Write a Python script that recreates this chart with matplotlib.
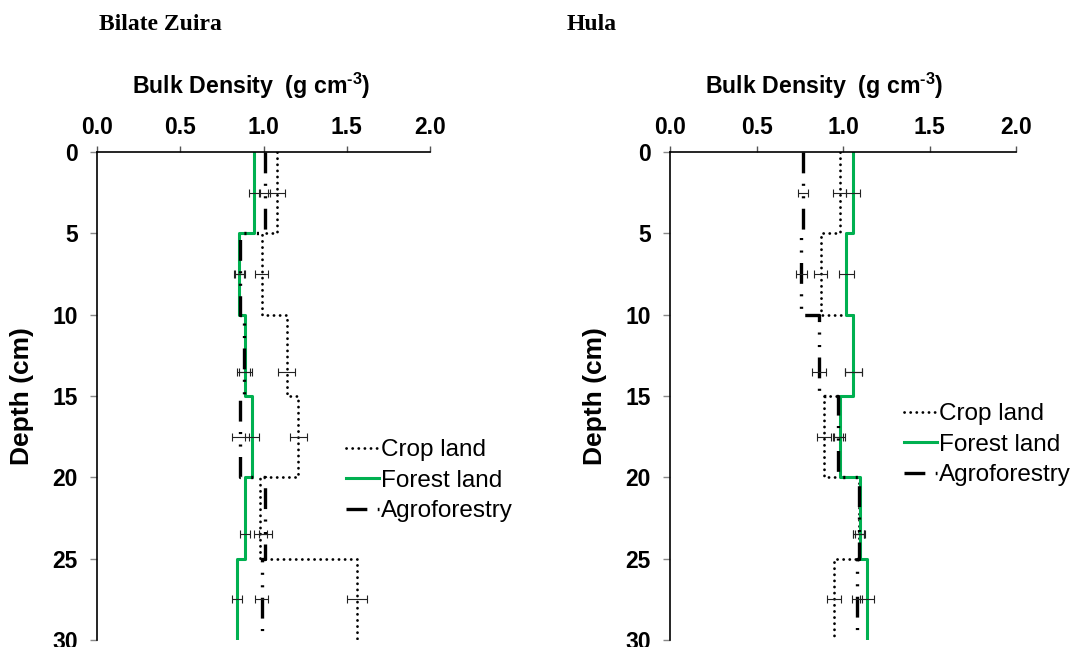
import numpy as np
import matplotlib
matplotlib.use("Agg")
import matplotlib.pyplot as plt

plt.rcParams['font.family'] = ['Liberation Sans', 'DejaVu Sans']
plt.rcParams['lines.scale_dashes'] = False
plt.rcParams['mathtext.fontset'] = 'custom'
plt.rcParams['mathtext.rm'] = 'Liberation Sans:bold'
plt.rcParams['mathtext.bf'] = 'Liberation Sans:bold'

# depth layers (cm) and points where error bars were drawn
depth_edges = [0, 5, 10, 15, 20, 25, 30]
err_depths = [2.5, 7.5, 13.5, 17.5, 23.5, 27.5]

# Bilate Zuira
bz_crop = [1.08, 0.99, 1.14, 1.21, 0.98, 1.56]
bz_forest = [0.94, 0.85, 0.89, 0.93, 0.89, 0.84]
bz_agro = [1.01, 0.86, 0.88, 0.86, 1.01, 0.99]
bz_crop_err = [0.05, 0.04, 0.05, 0.05, 0.04, 0.06]
bz_forest_err = [0.03, 0.03, 0.04, 0.04, 0.03, 0.03]
bz_agro_err = [0.03, 0.03, 0.04, 0.05, 0.04, 0.04]

# Hula
hu_crop = [0.98, 0.87, 1.06, 0.89, 1.09, 0.95]
hu_forest = [1.06, 1.02, 1.06, 0.98, 1.10, 1.14]
hu_agro = [0.77, 0.76, 0.86, 0.97, 1.09, 1.08]
hu_crop_err = [0.04, 0.04, 0.05, 0.04, 0.03, 0.04]
hu_forest_err = [0.04, 0.045, 0.05, 0.03, 0.03, 0.04]
hu_agro_err = [0.03, 0.03, 0.04, 0.03, 0.03, 0.03]

GREEN = '#00b050'


def step_xy(vals):
    xs = np.repeat(vals, 2)
    ys = np.repeat(depth_edges, 2)[1:-1]
    return xs, ys


def draw_panel(ax, crop, forest, agro, crop_e, forest_e, agro_e, title, title_x,
               label_x, leg_xy):
    x, y = step_xy(crop)
    ax.plot(x, y, color='black', lw=2.0, dashes=(0.1, 4.3),
            dash_capstyle='round', label='Crop land')
    x, y = step_xy(forest)
    ax.plot(x, y, color=GREEN, lw=2.2, label='Forest land')
    x, y = step_xy(agro)
    ax.plot(x, y, color='black', lw=2.4, dashes=(15, 7.5, 1.5, 7.5, 1.5, 7.5),
            label='Agroforestry')

    for vals, errs in [(crop, crop_e), (forest, forest_e), (agro, agro_e)]:
        ax.errorbar(vals, err_depths, xerr=errs, fmt='none', ecolor='#222222',
                    elinewidth=0.8, capsize=3, capthick=0.8)

    ax.set_xlim(0, 2)
    ax.set_ylim(30, 0)
    ax.set_xticks([0, 0.5, 1.0, 1.5, 2.0])
    ax.set_xticklabels(['0.0', '0.5', '1.0', '1.5', '2.0'])
    ax.set_yticks([0, 5, 10, 15, 20, 25, 30])
    ax.xaxis.tick_top()
    ax.spines['right'].set_visible(False)
    ax.spines['bottom'].set_visible(False)
    ax.spines['top'].set_linewidth(1.2)
    ax.spines['left'].set_linewidth(1.2)
    ax.tick_params(axis='x', direction='out', length=4.5, width=1, color='#555555',
                   labelsize=16.5, pad=5)
    ax.tick_params(axis='y', direction='out', length=5, width=1, color='#888888',
                   labelsize=16.5, pad=9)
    for lab in ax.get_xticklabels() + ax.get_yticklabels():
        lab.set_fontweight('bold')
    ax.text(label_x, 1.135, r'Bulk Density  (g cm$^{\text{-}3}$)', fontsize=16.7,
            fontweight='bold', ha='center', va='center', transform=ax.transAxes)
    ax.set_ylabel('Depth (cm)', fontsize=19, fontweight='bold', labelpad=13)

    ax.figure.text(title_x, 0.962, title, family='Liberation Serif',
                   fontweight='bold', fontsize=17, ha='left', va='center')

    ax.legend(loc='upper left', bbox_to_anchor=leg_xy, bbox_transform=ax.figure.transFigure,
              frameon=False, fontsize=17.5, handlelength=1.35, handletextpad=0.1,
              borderpad=0, borderaxespad=0, labelspacing=0.35)


fig = plt.figure(figsize=(10.72, 6.47), dpi=100)
ax1 = fig.add_axes([97 / 1072, 7 / 647, 333 / 1072, 488 / 647])
ax2 = fig.add_axes([670 / 1072, 7 / 647, 346 / 1072, 488 / 647])

draw_panel(ax1, bz_crop, bz_forest, bz_agro, bz_crop_err, bz_forest_err, bz_agro_err,
           'Bilate Zuira', 99 / 1072, 0.462, (346 / 1072, 1 - 439 / 647))
draw_panel(ax2, hu_crop, hu_forest, hu_agro, hu_crop_err, hu_forest_err, hu_agro_err,
           'Hula', 567 / 1072, 0.445, (904 / 1072, 1 - 403 / 647))

fig.savefig('out.png', dpi=100)
